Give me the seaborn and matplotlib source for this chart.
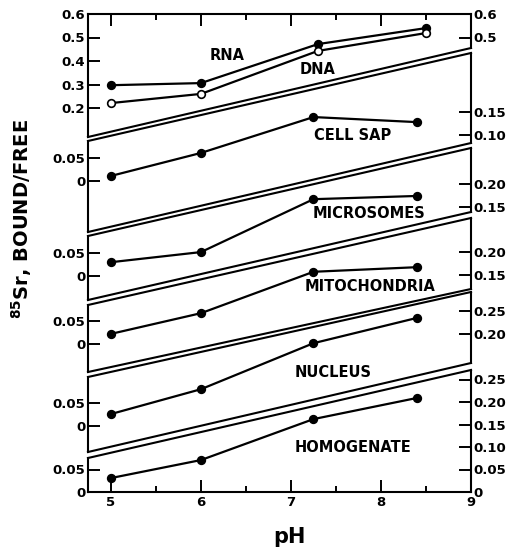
"""
85Sr bound/free ratio vs pH for subcellular fractions
Stacked broken-axis panels, saved to out.png
"""

import matplotlib
matplotlib.use("Agg")
import matplotlib.pyplot as plt
import seaborn as sns

# ── data ──────────────────────────────────────────────────────────────────────
ph_top = [5, 6, 7.3, 8.5]
rna = [0.297, 0.306, 0.472, 0.540]
dna = [0.221, 0.260, 0.443, 0.519]

ph = [5, 6, 7.25, 8.4]
cell_sap = [0.011, 0.061, 0.139, 0.128]
microsomes = [0.030, 0.052, 0.167, 0.174]
mitochondria = [0.022, 0.067, 0.157, 0.167]
nucleus = [0.026, 0.080, 0.180, 0.235]
homogenate = [0.031, 0.071, 0.162, 0.209]

top_left_ticks = [0.2, 0.3, 0.4, 0.5, 0.6]
top_right_ticks = [0.5, 0.6]
low_left_ticks = [0, 0.05]
cell_right_ticks = [0.10, 0.15]
micro_right_ticks = [0.15, 0.20]
mito_right_ticks = [0.15, 0.20]
nuc_right_ticks = [0.20, 0.25]
hom_right_ticks = [0, 0.05, 0.10, 0.15, 0.20, 0.25]

# ── layout (pixel rows of the 508x550 figure) ─────────────────────────────────
W, H = 508, 550
X0, X1 = 4.745, 9.0
ROW_TOP, ROW_BOT = 14, 492
LW = 1.5
INK = "black"
TICK = dict(direction="in", length=8.5, width=1.4, labelsize=9.5, pad=2,
            color=INK, labelcolor=INK)

sns.set_style("ticks")
plt.rcParams["font.family"] = ["DejaVu Sans"]
plt.rcParams["font.weight"] = "bold"
plt.rcParams["mathtext.default"] = "bf"
for key in ["text.color", "axes.labelcolor", "xtick.color", "ytick.color",
            "axes.edgecolor"]:
    plt.rcParams[key] = INK

fig = plt.figure(figsize=(W / 100, H / 100), dpi=100)
rect = [88 / W, 1 - ROW_BOT / H, 383 / W, (ROW_BOT - ROW_TOP) / H]

base = fig.add_axes(rect)
base.set_xlim(X0, X1)
base.set_ylim(ROW_BOT, ROW_TOP)
base.set_yticks([])
base.set_xticks([5, 6, 7, 8, 9])
base.set_xticks([5.5, 6.5, 7.5, 8.5], minor=True)
base.tick_params(axis="x", which="both", direction="in", top=True, bottom=True,
                 width=1.4, labelsize=9.5, pad=3, color=INK, labelcolor=INK)
base.tick_params(axis="x", which="major", length=8.5)
base.tick_params(axis="x", which="minor", length=4.5)
for side in ["left", "right"]:
    base.spines[side].set_visible(False)
for side in ["top", "bottom"]:
    base.spines[side].set_linewidth(LW)
    base.spines[side].set_color(INK)

# panel outlines: (top-left, top-right, bottom-left, bottom-right) rows
outlines = [
    (14, 14, 137, 48),
    (141, 53, 232, 143),
    (236, 148, 300, 212),
    (305, 218, 372, 289),
    (377, 292, 452, 363),
    (458, 370, 492, 492),
]
for i, (tl, tr, bl, br) in enumerate(outlines):
    kw = dict(color=INK, lw=LW, clip_on=False, solid_capstyle="projecting")
    base.plot([X0, X0], [tl, bl], **kw)
    base.plot([X1, X1], [tr, br], **kw)
    if i > 0:
        base.plot([X0, X1], [tl, tr], **kw)
    if i < len(outlines) - 1:
        base.plot([X0, X1], [bl, br], **kw)


def panel_axes(zero_row, ppu, left_ticks, left_labels, right_ticks, right_labels):
    ax = fig.add_axes(rect, facecolor="none")
    ax.set_xlim(X0, X1)
    ax.set_ylim((zero_row - ROW_BOT) / ppu, (zero_row - ROW_TOP) / ppu)
    for s in ax.spines.values():
        s.set_visible(False)
    ax.set_xticks([])
    ax.set_yticks(left_ticks, labels=left_labels)
    ax.tick_params(axis="y", **TICK)
    sec = ax.secondary_yaxis("right")
    sec.spines["right"].set_visible(False)
    sec.set_yticks(right_ticks, labels=right_labels)
    sec.tick_params(axis="y", **TICK)
    return ax


def series(ax, x, y, filled=True):
    sns.lineplot(x=x, y=y, ax=ax, color=INK, linewidth=1.6, marker="o",
                 markersize=5.5, markerfacecolor=INK if filled else "white",
                 markeredgecolor=INK, markeredgewidth=1.2, clip_on=False)


fmt2 = lambda v: "0" if v == 0 else f"{v:.2f}"

ax = panel_axes(155, 235, top_left_ticks, [f"{v:.1f}" for v in top_left_ticks],
                top_right_ticks, [f"{v:.1f}" for v in top_right_ticks])
series(ax, ph_top, rna, True)
series(ax, ph_top, dna, False)

for zero_row, ppu, right, vals in [
    (181, 460, cell_right_ticks, cell_sap),
    (276, 460, micro_right_ticks, microsomes),
    (344, 460, mito_right_ticks, mitochondria),
    (426, 460, nuc_right_ticks, nucleus),
    (492, 450, hom_right_ticks, homogenate),
]:
    ax = panel_axes(zero_row, ppu, low_left_ticks, [fmt2(v) for v in low_left_ticks],
                    right, [fmt2(v) for v in right])
    series(ax, ph, vals)

# panel names
for name, xpos, row in [
    ("RNA", 6.29, 56), ("DNA", 7.29, 70), ("CELL SAP", 7.68, 136),
    ("MICROSOMES", 7.87, 213), ("MITOCHONDRIA", 7.88, 287),
    ("NUCLEUS", 7.47, 373), ("HOMOGENATE", 7.69, 448),
]:
    base.text(xpos, row, name, ha="center", va="center", fontsize=10.5,
              fontweight="bold", color=INK)

fig.text(22 / W, 1 - 219 / H, r"$^{85}$Sr, BOUND/FREE", rotation=90,
         ha="center", va="center", fontsize=14, fontweight="bold", color=INK)
fig.text(289 / W, 1 - 537 / H, "pH", ha="center", va="center",
         fontsize=15, fontweight="bold", color=INK)

fig.savefig("out.png", dpi=100)
